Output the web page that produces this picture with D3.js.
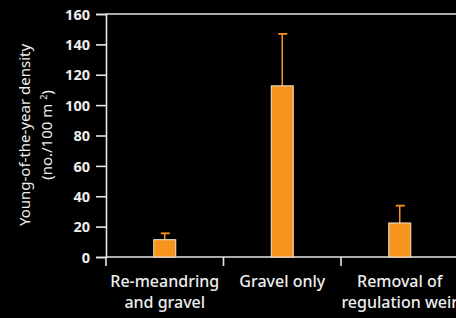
<!DOCTYPE html>
<html>
<head>
<meta charset="utf-8">
<script src="https://cdn.jsdelivr.net/npm/d3@7"></script>
<style>
  html, body { margin: 0; padding: 0; background: #000; }
  svg { display: block; }
</style>
</head>
<body>
<svg id="chart" width="456" height="318"></svg>
<script>
const categories = [["Re-meandring", "and gravel"], ["Gravel only"], ["Removal of", "regulation weir"]];
const means = [11.4, 112.7, 22.4];
const errTops = [15.6, 146.9, 33.8];
const yTicks = [0, 20, 40, 60, 80, 100, 120, 140, 160];

const svg = d3.select("#chart");
const mLeft = 106, mTop = 14, mBottom = 257, catW = 117.5;
const orange = "#f7941d";
const lineCol = "#e6e6e6";
const font = "'Noto Sans', sans-serif";

const x = d3.scaleBand()
  .domain(d3.range(categories.length))
  .range([mLeft, mLeft + catW * categories.length])
  .paddingInner(0).paddingOuter(0);

const y = d3.scaleLinear().domain([0, 160]).range([mBottom, mTop]);

// y axis
const yAxis = svg.append("g")
  .attr("transform", "translate(" + mLeft + ",0)")
  .call(d3.axisLeft(y).tickValues(yTicks).tickSize(10).tickPadding(6));
yAxis.select(".domain").attr("stroke", lineCol).attr("stroke-width", 1.6);
yAxis.selectAll(".tick line").attr("stroke", lineCol).attr("stroke-width", 1.6);
yAxis.selectAll("text")
  .attr("fill", "#eee")
  .attr("dy", "0.36em")
  .style("font-family", font)
  .style("font-weight", 700)
  .style("font-size", "14.5px");

// top frame line
svg.append("line")
  .attr("x1", mLeft).attr("x2", 456)
  .attr("y1", y(160)).attr("y2", y(160))
  .attr("stroke", lineCol).attr("stroke-width", 1.6);

// x axis
svg.append("line")
  .attr("x1", mLeft).attr("x2", 456)
  .attr("y1", mBottom).attr("y2", mBottom)
  .attr("stroke", lineCol).attr("stroke-width", 1.6);
svg.selectAll(".xtick")
  .data(d3.range(categories.length))
  .enter().append("line")
  .attr("x1", d => x(d)).attr("x2", d => x(d))
  .attr("y1", mBottom).attr("y2", mBottom + 9)
  .attr("stroke", lineCol).attr("stroke-width", 1.6);

// category labels
const lab = svg.selectAll(".cat")
  .data(categories)
  .enter().append("text")
  .attr("text-anchor", "middle")
  .attr("fill", "#eee")
  .style("font-family", font)
  .style("font-weight", 500)
  .style("font-size", "16px");
lab.each(function(d, i) {
  const t = d3.select(this);
  d.forEach((line, j) => {
    t.append("tspan")
      .attr("x", x(i) + x.bandwidth() / 2)
      .attr("y", 287 + j * 21)
      .text(line);
  });
});

// y title
const title = svg.append("text")
  .attr("transform", "translate(25," + 135 + ") rotate(-90)")
  .attr("text-anchor", "middle")
  .attr("fill", "#eee")
  .style("font-family", font)
  .style("font-size", "15px");
title.append("tspan").attr("x", 0).attr("y", 5).text("Young-of-the-year density");
const t2 = title.append("tspan").attr("x", 0).attr("y", 27);
t2.append("tspan").text("(no./100 m ");
t2.append("tspan").attr("dy", -5).style("font-size", "9px").text("2");
t2.append("tspan").attr("dy", 5).text(")");

const barW = 22;
const cx = i => x(i) + x.bandwidth() / 2;

// error bars
const err = svg.selectAll(".err")
  .data(means)
  .enter().append("g");
err.append("line")
  .attr("x1", (d, i) => cx(i)).attr("x2", (d, i) => cx(i))
  .attr("y1", d => y(d)).attr("y2", (d, i) => y(errTops[i]))
  .attr("stroke", orange).attr("stroke-width", 1.5);
err.append("line")
  .attr("x1", (d, i) => cx(i) - 4).attr("x2", (d, i) => cx(i) + 5)
  .attr("y1", (d, i) => y(errTops[i])).attr("y2", (d, i) => y(errTops[i]))
  .attr("stroke", orange).attr("stroke-width", 1.8);

// bars
svg.selectAll(".bar")
  .data(means)
  .enter().append("rect")
  .attr("x", (d, i) => cx(i) - barW / 2)
  .attr("y", d => y(d))
  .attr("width", barW)
  .attr("height", d => mBottom - y(d))
  .attr("fill", orange)
  .attr("stroke", "#f2e6d8")
  .attr("stroke-width", 1);
</script>
</body>
</html>
